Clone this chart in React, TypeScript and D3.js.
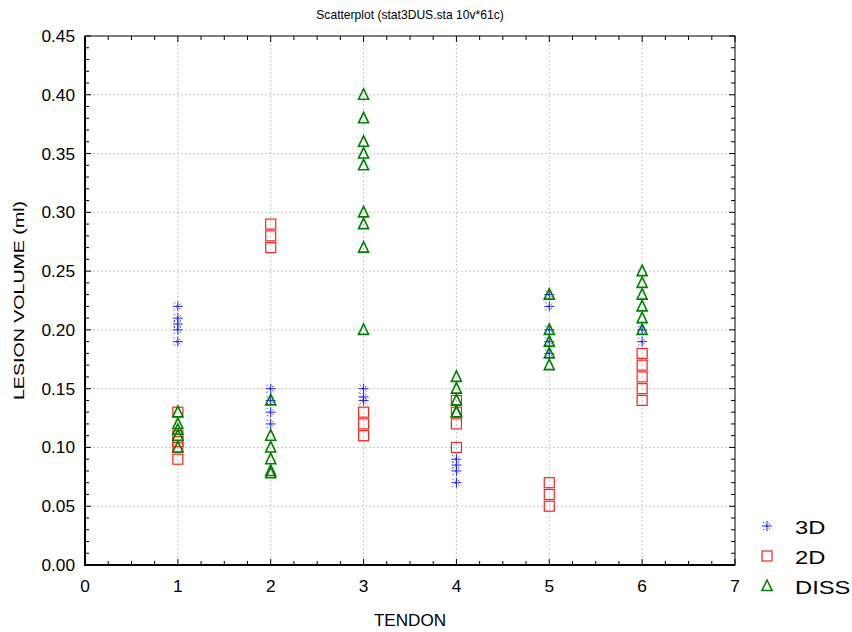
import React, { useEffect, useRef } from "react";
import * as d3 from "d3";

// values
const tendons = [1, 2, 3, 4, 5, 6];

const vol3D = [
  [0.22, 0.21, 0.205, 0.2, 0.19],
  [0.15, 0.14, 0.13, 0.12],
  [0.15, 0.143, 0.14],
  [0.09, 0.085, 0.08, 0.07],
  [0.23, 0.22, 0.2, 0.19, 0.18],
  [0.2, 0.19],
];

const vol2D = [
  [0.13, 0.11, 0.105, 0.1, 0.09],
  [0.29, 0.28, 0.27],
  [0.13, 0.12, 0.11],
  [0.14, 0.13, 0.12, 0.1],
  [0.07, 0.06, 0.05],
  [0.18, 0.17, 0.16, 0.15, 0.14],
];

const volDISS = [
  [0.13, 0.12, 0.115, 0.11, 0.1],
  [0.14, 0.11, 0.1, 0.09, 0.08, 0.078],
  [0.4, 0.38, 0.36, 0.35, 0.34, 0.3, 0.29, 0.27, 0.2],
  [0.16, 0.15, 0.14, 0.13, 0.13],
  [0.23, 0.2, 0.19, 0.18, 0.17],
  [0.25, 0.24, 0.23, 0.22, 0.21, 0.2],
];

const seriesNames = ["3D", "2D", "DISS"];
const xTicks = [0, 1, 2, 3, 4, 5, 6, 7];
const yTicks = [0, 0.05, 0.1, 0.15, 0.2, 0.25, 0.3, 0.35, 0.4, 0.45];

const W = 852;
const H = 632;
const margin = { top: 36, right: 117, bottom: 67, left: 85 };
const font = "Arial, 'Liberation Sans', sans-serif";

function drawMarker(g: any, kind: string, cx: number, cy: number) {
  if (kind === "3D") {
    const s = 5;
    const grp = g.append("g").attr("stroke", "#1f1fff").attr("stroke-width", 1);
    grp.append("line").attr("x1", cx - s).attr("x2", cx + s).attr("y1", cy).attr("y2", cy);
    grp.append("line").attr("x1", cx).attr("x2", cx).attr("y1", cy - s).attr("y2", cy + s);
    grp.append("line").attr("x1", cx - 4).attr("x2", cx + 4).attr("y1", cy - 4).attr("y2", cy + 4)
      .attr("stroke-dasharray", "1.5,2.5");
    grp.append("line").attr("x1", cx - 4).attr("x2", cx + 4).attr("y1", cy + 4).attr("y2", cy - 4)
      .attr("stroke-dasharray", "1.5,2.5");
  } else if (kind === "2D") {
    g.append("rect")
      .attr("x", cx - 5).attr("y", cy - 5).attr("width", 10).attr("height", 10)
      .attr("fill", "none").attr("stroke", "#ff2020").attr("stroke-width", 1.2);
  } else {
    g.append("path")
      .attr("d", `M${cx},${cy - 6}L${cx + 5},${cy + 4.5}L${cx - 5},${cy + 4.5}Z`)
      .attr("fill", "none").attr("stroke", "#008000").attr("stroke-width", 1.6);
  }
}

// text with a horizontal stretch factor, to match the reference widths
function label(g: any, x: number, y: number, str: string, size: number, anchor: string, sx: number, rot = 0) {
  g.append("g")
    .attr("transform", `translate(${x},${y}) rotate(${rot}) scale(${sx},1)`)
    .append("text")
    .attr("text-anchor", anchor)
    .attr("font-family", font)
    .attr("font-size", size)
    .text(str);
}

const App = () => {
  const ref = useRef<SVGSVGElement>(null);

  useEffect(() => {
    const svg = d3.select(ref.current);
    svg.selectAll("*").remove();

    const iw = W - margin.left - margin.right;
    const ih = H - margin.top - margin.bottom;

    const x = d3.scaleLinear().domain([0, 7]).range([margin.left, margin.left + iw]);
    const y = d3.scaleLinear().domain([0, 0.45]).range([margin.top + ih, margin.top]);

    svg.append("rect").attr("width", W).attr("height", H).attr("fill", "#fff");

    // grid
    const grid = svg.append("g").attr("stroke", "#c8c8c8").attr("stroke-dasharray", "2,2");
    xTicks.slice(1, -1).forEach((t) => {
      grid.append("line").attr("x1", x(t)).attr("x2", x(t)).attr("y1", y(0.45)).attr("y2", y(0));
    });
    yTicks.slice(1, -1).forEach((t) => {
      grid.append("line").attr("x1", x(0)).attr("x2", x(7)).attr("y1", y(t)).attr("y2", y(t));
    });

    // frame
    svg.append("rect")
      .attr("x", x(0)).attr("y", y(0.45)).attr("width", iw).attr("height", ih)
      .attr("fill", "none").attr("stroke", "#000").attr("stroke-width", 1);

    // inward ticks, major + minor, on all four sides
    const ticks = svg.append("g").attr("stroke", "#000").attr("stroke-width", 1);
    d3.range(0, 7.001, 0.25).forEach((t) => {
      const major = Math.abs(t - Math.round(t)) < 1e-6;
      const len = major ? 6 : 4;
      ticks.append("line").attr("x1", x(t)).attr("x2", x(t)).attr("y1", y(0)).attr("y2", y(0) - len);
      ticks.append("line").attr("x1", x(t)).attr("x2", x(t)).attr("y1", y(0.45)).attr("y2", y(0.45) + len);
    });
    d3.range(0, 45.001, 1).forEach((i) => {
      const t = i / 100;
      const major = i % 5 === 0;
      const len = major ? 6 : 4;
      ticks.append("line").attr("x1", x(0)).attr("x2", x(0) + len).attr("y1", y(t)).attr("y2", y(t));
      ticks.append("line").attr("x1", x(7)).attr("x2", x(7) - len).attr("y1", y(t)).attr("y2", y(t));
    });

    // heavier left and bottom axis lines
    svg.append("line").attr("x1", x(0)).attr("x2", x(7)).attr("y1", y(0)).attr("y2", y(0))
      .attr("stroke", "#000").attr("stroke-width", 2);
    svg.append("line").attr("x1", x(0)).attr("x2", x(0)).attr("y1", y(0) + 1).attr("y2", y(0.45))
      .attr("stroke", "#000").attr("stroke-width", 2);

    // tick labels
    const lbl = svg.append("g");
    xTicks.forEach((d) => label(lbl, x(d), y(0) + 27, String(d), 16, "middle", 1.08));
    yTicks.forEach((d) => label(lbl, x(0) - 10, y(d) + 6, d.toFixed(2), 16, "end", 1.08));

    // titles
    label(lbl, 410, 19, "Scatterplot (stat3DUS.sta 10v*61c)", 13, "middle", 0.93);
    label(lbl, 410, 626, "TENDON", 16, "middle", 1.07);
    label(lbl, 24, (y(0) + y(0.45)) / 2, "LESION VOLUME (ml)", 14, "middle", 1.4, -90);

    // points
    const pts = svg.append("g");
    const all = [vol3D, vol2D, volDISS];
    all.forEach((series, si) => {
      series.forEach((vals, ti) => {
        vals.forEach((v) => drawMarker(pts, seriesNames[si], x(tendons[ti]), y(v)));
      });
    });

    // legend
    const leg = svg.append("g");
    const legY = [526, 556, 586];
    seriesNames.forEach((name, i) => {
      drawMarker(leg, name, 767, legY[i]);
      label(leg, 795, legY[i] + 8, name, 19, "start", 1.25);
    });
  }, []);

  return (
    <svg
      ref={ref}
      width={W}
      height={H}
      style={{ display: "block", position: "absolute", left: 0, top: 0 }}
    />
  );
};

export default App;
